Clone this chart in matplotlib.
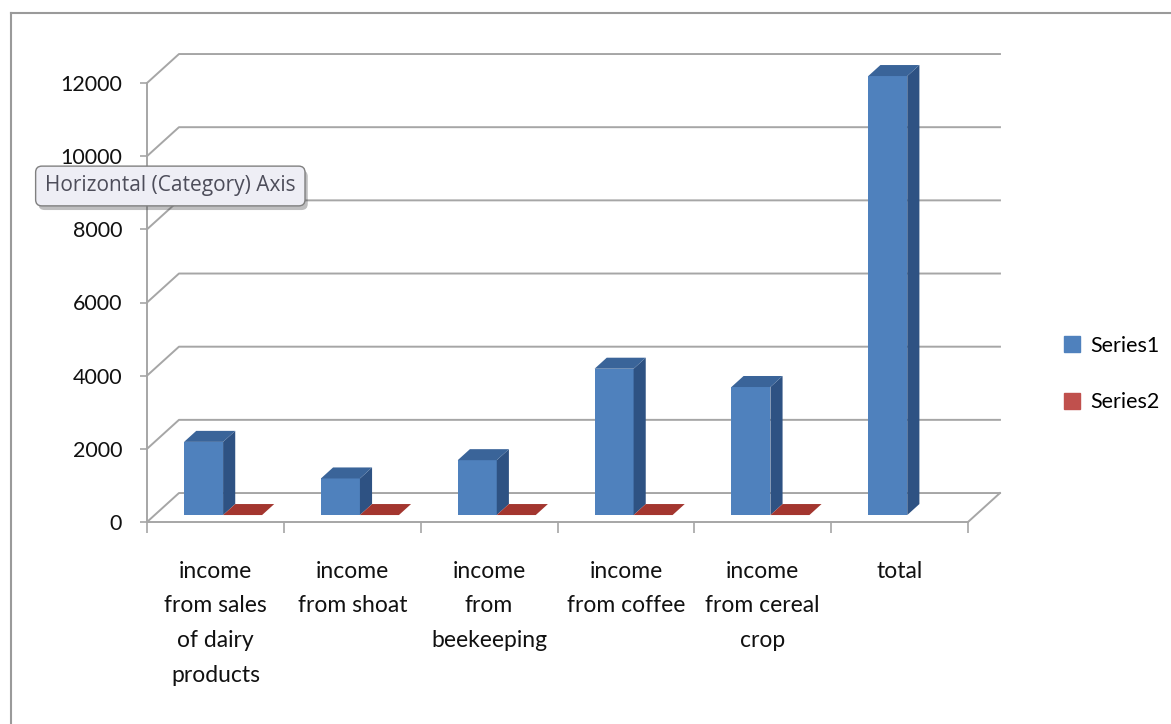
import numpy as np
import matplotlib
matplotlib.use("Agg")
import matplotlib.pyplot as plt
from matplotlib.patches import Polygon, Patch
from matplotlib.lines import Line2D
import matplotlib.patheffects as pe

categories = [
    "income\nfrom sales\nof dairy\nproducts",
    "income\nfrom shoat",
    "income\nfrom\nbeekeeping",
    "income\nfrom coffee",
    "income\nfrom cereal\ncrop",
    "total",
]
series1 = [2000, 1000, 1500, 4000, 3500, 12000]
series2 = [0, 0, 0, 0, 0, None]   # no series2 value for "total"
yticks = [0, 2000, 4000, 6000, 8000, 10000, 12000]

plt.rcParams["font.family"] = ["Lato", "DejaVu Sans"]

W, H = 1171, 724
fig = plt.figure(figsize=(W / 100, H / 100), dpi=100)
ax = fig.add_axes([147 / W, (H - 522) / H, (968 - 147) / W, (522 - 83) / H])
ax.set_xlim(0, len(categories))
ax.set_ylim(0, 12000)

# oblique depth of the 3d box, in data units
DX, DY = 0.2336, 792
F0, F1 = 0.24, 0.62
BW = 0.285
grid_c = "#a6a6a6"

blue, blue_side, blue_top = "#4F81BD", "#2E5283", "#3A6499"
red, red_top = "#C0504D", "#A3362F"

# back wall + left wall gridlines
n = len(categories)
for v in yticks:
    ax.plot([0, DX, n + DX], [v, v + DY, v + DY], color=grid_c, lw=1.4,
            clip_on=False, zorder=1)
ax.plot([n, n + DX], [0, DY], color=grid_c, lw=1.4, clip_on=False, zorder=1)

x = np.arange(n)

# series1 front faces
ax.bar(x + 0.5 - BW + F0 * DX, series1, width=BW, bottom=F0 * DY, align="edge",
       color=blue, clip_on=False, zorder=3)

for i in range(n):
    for xl, v, side_c, top_c in [(i + 0.5 - BW, series1[i], blue_side, blue_top),
                                 (i + 0.5, series2[i], red, red_top)]:
        if v is None:
            continue
        xr = xl + BW
        side = [(xr + F0 * DX, F0 * DY), (xr + F1 * DX, F1 * DY),
                (xr + F1 * DX, v + F1 * DY), (xr + F0 * DX, v + F0 * DY)]
        top = [(xl + F0 * DX, v + F0 * DY), (xr + F0 * DX, v + F0 * DY),
               (xr + F1 * DX, v + F1 * DY), (xl + F1 * DX, v + F1 * DY)]
        if v > 0:
            ax.add_patch(Polygon(side, closed=True, fc=side_c, ec="none",
                                 clip_on=False, zorder=3))
        ax.add_patch(Polygon(top, closed=True, fc=top_c, ec="none",
                             clip_on=False, zorder=3))

# axes styling
for s in ["top", "right"]:
    ax.spines[s].set_visible(False)
for s in ["left", "bottom"]:
    ax.spines[s].set_color(grid_c)
    ax.spines[s].set_linewidth(1.4)
ax.set_facecolor("none")

ax.set_yticks(yticks)
ax.set_yticklabels([str(t) for t in yticks])
ax.tick_params(axis="y", direction="out", length=5, width=1.2, color=grid_c,
               pad=13, labelsize=15.5, labelcolor="#111111")

ax.set_xticks(np.arange(n + 1))
ax.set_xticklabels([])
ax.tick_params(axis="x", which="major", direction="out", length=8, width=1.2,
               color=grid_c)
ax.set_xticks(x + 0.5, minor=True)
ax.set_xticklabels(categories, minor=True, fontsize=16.5, color="#111111",
                   linespacing=1.8)
ax.tick_params(axis="x", which="minor", length=0, pad=28)

# legend
handles = [Patch(color=blue, label="Series1"), Patch(color=red, label="Series2")]
fig.legend(handles=handles, loc="center left",
           bbox_to_anchor=(1064 / W, 1 - 374 / H), frameon=False,
           handlelength=0.75, handleheight=0.75, handletextpad=0.45,
           labelspacing=1.7, borderpad=0, borderaxespad=0, fontsize=15.5)

# tooltip left over from the screenshot
t = fig.text(45 / W, 1 - 186 / H, "Horizontal (Category) Axis",
             family="Open Sans", fontsize=15, color="#4d4d5a",
             ha="left", va="center",
             bbox=dict(boxstyle="round,pad=0.45,rounding_size=0.3",
                       fc="#eeeef5", ec="#808080", lw=1))
t.get_bbox_patch().set_path_effects(
    [pe.SimplePatchShadow(offset=(2, -3), alpha=0.35), pe.Normal()])

# outer chart border (top and left visible)
fig.add_artist(Line2D([11 / W, 11 / W], [0, 1 - 13 / H], transform=fig.transFigure,
                      color="#9a9a9a", lw=1.5))
fig.add_artist(Line2D([11 / W, 1], [1 - 13 / H, 1 - 13 / H], transform=fig.transFigure,
                      color="#9a9a9a", lw=1.5))

fig.savefig("out.png", dpi=100, facecolor="white")
